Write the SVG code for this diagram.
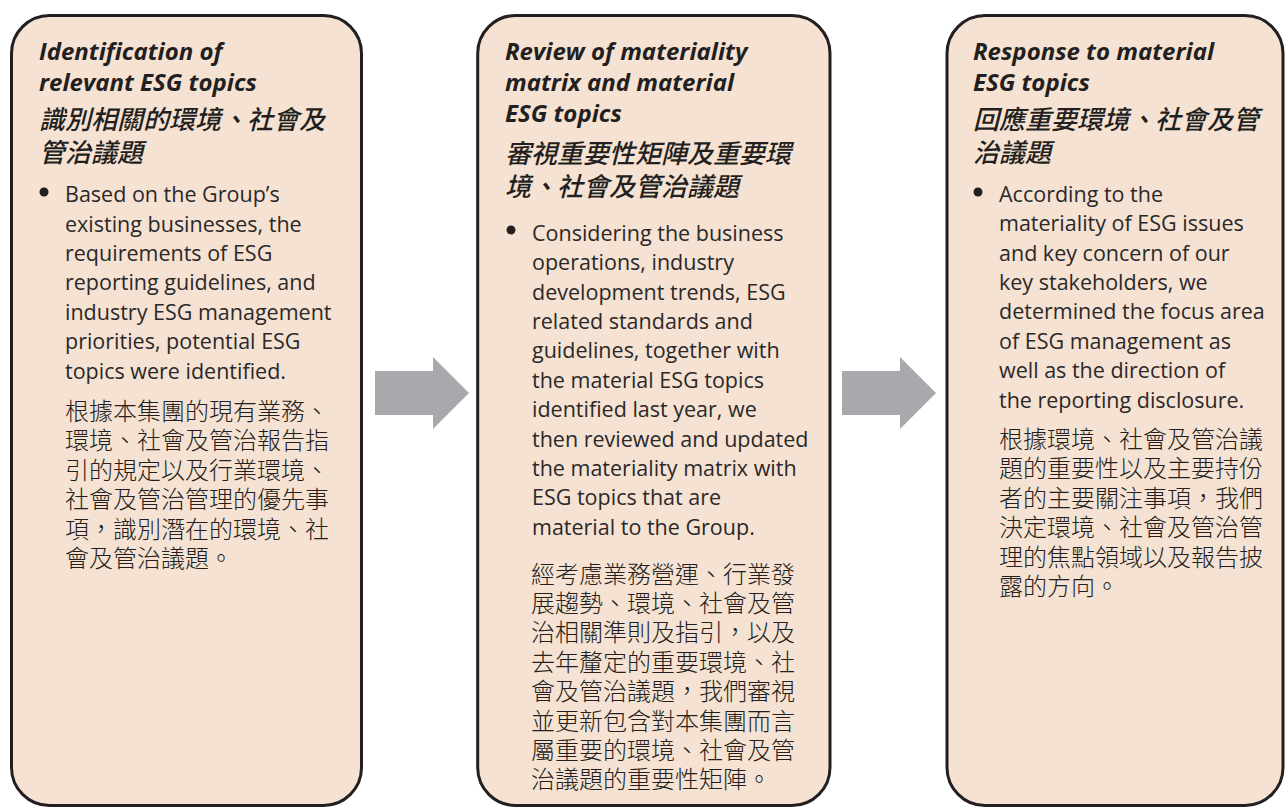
<svg xmlns="http://www.w3.org/2000/svg" width="1287" height="807" viewBox="0 0 1287 807">
<style>
.box{fill:#f5e2d2;stroke:#231f20;stroke-width:3}
.hd{font-family:"Open Sans","Liberation Sans",sans-serif;font-size:24px;font-weight:bold;font-style:italic;fill:#231f20}
.hz{font-family:"Noto Sans CJK TC","Noto Sans CJK SC",sans-serif;font-size:26px;font-weight:500;font-style:italic;fill:#231f20}
.bd{font-family:"Open Sans","Liberation Sans",sans-serif;font-size:21.5px;fill:#2b2829}
.bz{font-family:"Noto Sans CJK TC","Noto Sans CJK SC",sans-serif;font-size:24px;font-weight:300;fill:#231f20}
.dot{fill:#231f20}
.arr{fill:#a7a9ac}
</style>
<rect width="1287" height="807" fill="#ffffff"/>
<g id="node1">
<rect class="box" x="11.5" y="15.5" width="350" height="790" rx="38" ry="38"/>
<text class="hd"><tspan x="39" y="60">Identification of</tspan><tspan x="39" y="91">relevant ESG topics</tspan></text>
<text class="hz"><tspan x="39" y="129">識別相關的環境、社會及</tspan><tspan x="39" y="162">管治議題</tspan></text>
<circle class="dot" cx="44" cy="192" r="4.5"/>
<text class="bd"><tspan x="65" y="202">Based on the Group’s</tspan><tspan x="65" y="231.5">existing businesses, the</tspan><tspan x="65" y="261">requirements of ESG</tspan><tspan x="65" y="290.4">reporting guidelines, and</tspan><tspan x="65" y="319.8">industry ESG management</tspan><tspan x="65" y="349.3">priorities, potential ESG</tspan><tspan x="65" y="378.7">topics were identified.</tspan></text>
<text class="bz"><tspan x="65" y="420">根據本集團的現有業務、</tspan><tspan x="65" y="449.4">環境、社會及管治報告指</tspan><tspan x="65" y="478.8">引的規定以及行業環境、</tspan><tspan x="65" y="508.2">社會及管治管理的優先事</tspan><tspan x="65" y="537.6">項，識別潛在的環境、社</tspan><tspan x="65" y="567">會及管治議題。</tspan></text>
</g>
<g id="node2">
<rect class="box" x="477.7" y="15.5" width="352.3" height="790" rx="38" ry="38"/>
<text class="hd"><tspan x="505" y="60">Review of materiality</tspan><tspan x="505" y="91">matrix and material</tspan><tspan x="505" y="122">ESG topics</tspan></text>
<text class="hz"><tspan x="505" y="163">審視重要性矩陣及重要環</tspan><tspan x="505" y="196">境、社會及管治議題</tspan></text>
<circle class="dot" cx="511" cy="230" r="4.5"/>
<text class="bd"><tspan x="532" y="240.7">Considering the business</tspan><tspan x="532" y="270.1">operations, industry</tspan><tspan x="532" y="299.5">development trends, ESG</tspan><tspan x="532" y="328.9">related standards and</tspan><tspan x="532" y="358.3">guidelines, together with</tspan><tspan x="532" y="387.7">the material ESG topics</tspan><tspan x="532" y="417.1">identified last year, we</tspan><tspan x="532" y="446.5">then reviewed and updated</tspan><tspan x="532" y="475.9">the materiality matrix with</tspan><tspan x="532" y="505.3">ESG topics that are</tspan><tspan x="532" y="534.7">material to the Group.</tspan></text>
<text class="bz"><tspan x="531" y="582.5">經考慮業務營運、行業發</tspan><tspan x="531" y="611.9">展趨勢、環境、社會及管</tspan><tspan x="531" y="641.3">治相關準則及指引，以及</tspan><tspan x="531" y="670.7">去年釐定的重要環境、社</tspan><tspan x="531" y="700.1">會及管治議題，我們審視</tspan><tspan x="531" y="729.5">並更新包含對本集團而言</tspan><tspan x="531" y="758.9">屬重要的環境、社會及管</tspan><tspan x="531" y="788.3">治議題的重要性矩陣。</tspan></text>
</g>
<g id="node3">
<rect class="box" x="947" y="15.5" width="336" height="790" rx="38" ry="38"/>
<text class="hd"><tspan x="973" y="60">Response to material</tspan><tspan x="973" y="91">ESG topics</tspan></text>
<text class="hz"><tspan x="973" y="129">回應重要環境、社會及管</tspan><tspan x="973" y="162">治議題</tspan></text>
<circle class="dot" cx="978" cy="192" r="4.5"/>
<text class="bd"><tspan x="999" y="201.7">According to the</tspan><tspan x="999" y="231.1">materiality of ESG issues</tspan><tspan x="999" y="260.5">and key concern of our</tspan><tspan x="999" y="289.9">key stakeholders, we</tspan><tspan x="999" y="319.3">determined the focus area</tspan><tspan x="999" y="348.7">of ESG management as</tspan><tspan x="999" y="378.1">well as the direction of</tspan><tspan x="999" y="407.5">the reporting disclosure.</tspan></text>
<text class="bz"><tspan x="999" y="448">根據環境、社會及管治議</tspan><tspan x="999" y="477.4">題的重要性以及主要持份</tspan><tspan x="999" y="506.8">者的主要關注事項，我們</tspan><tspan x="999" y="536.2">決定環境、社會及管治管</tspan><tspan x="999" y="565.6">理的焦點領域以及報告披</tspan><tspan x="999" y="595">露的方向。</tspan></text>
</g>
<g id="connectors">
<polygon class="arr" points="375,371 433,371 433,357 469,393 433,429 433,415 375,415"/>
<polygon class="arr" points="842,371 900,371 900,357 936,393 900,429 900,415 842,415"/>
</g>
</svg>
